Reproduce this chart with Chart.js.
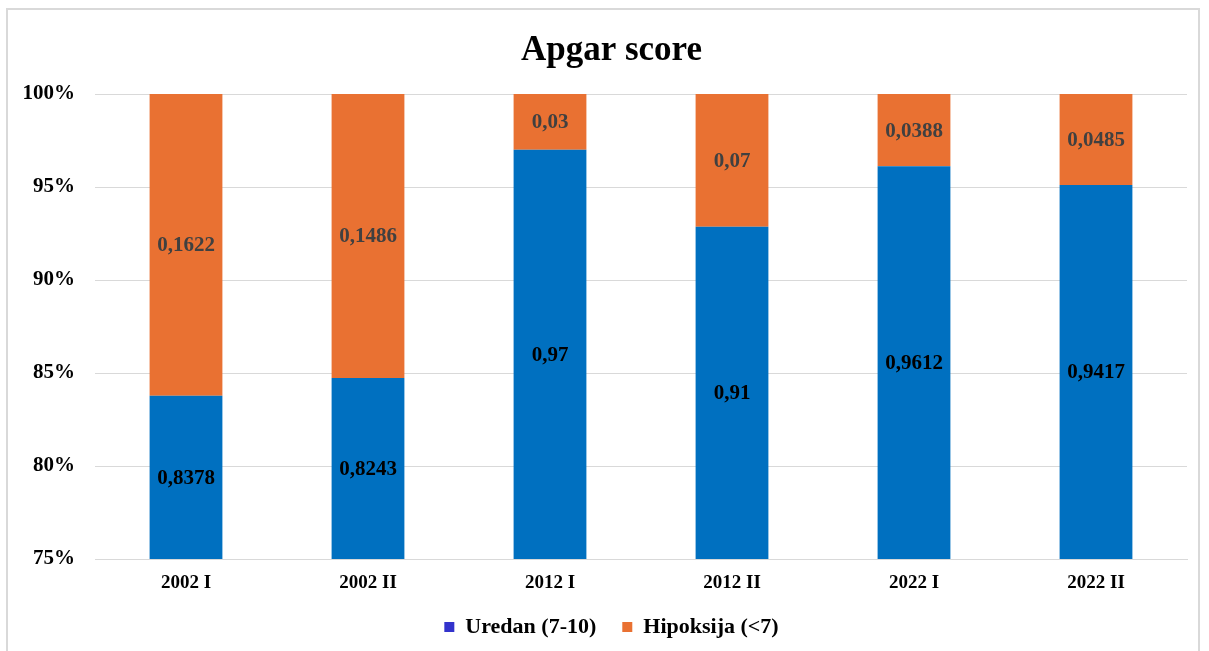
<!DOCTYPE html>
<html>
<head>
<meta charset="utf-8">
<script src="https://cdn.jsdelivr.net/npm/chart.js"></script>
<style>
  html, body { margin: 0; padding: 0; background: #fff; overflow: hidden; }
  #frame { position: absolute; left: 6px; top: 8px; width: 1194px; height: 660px; border: 2px solid #d9d9d9; box-sizing: border-box; }
  #wrap { position: absolute; left: 0; top: 0; width: 1209px; height: 651px; }
</style>
</head>
<body>
<div id="frame"></div>
<div id="wrap"><canvas id="chart" width="1209" height="651"></canvas></div>
<script>
// Categories and raw values as shown on the bars
const categories = ['2002 I', '2002 II', '2012 I', '2012 II', '2022 I', '2022 II'];
const uredan = [0.8378, 0.8243, 0.97, 0.91, 0.9612, 0.9417];
const hipoksija = [0.1622, 0.1486, 0.03, 0.07, 0.0388, 0.0485];
const yTicks = [75, 80, 85, 90, 95, 100];

const FONT = '"Liberation Serif", "Times New Roman", serif';

// 100% stacked: share of each series in the column total
const totals = categories.map((c, i) => uredan[i] + hipoksija[i]);
const uredanPct = uredan.map((v, i) => v / totals[i] * 100);
const hipoksijaPct = hipoksija.map((v, i) => v / totals[i] * 100);

// Draw raw values centered in the visible part of each segment
const valueLabels = {
  id: 'valueLabels',
  afterDatasetsDraw(chart) {
    const ctx = chart.ctx;
    const area = chart.chartArea;
    ctx.save();
    ctx.font = 'bold 21px ' + FONT;
    ctx.textAlign = 'center';
    ctx.textBaseline = 'middle';
    chart.data.datasets.forEach((ds, di) => {
      const meta = chart.getDatasetMeta(di);
      meta.data.forEach((bar, i) => {
        const top = Math.max(Math.min(bar.y, bar.base), area.top);
        const bottom = Math.min(Math.max(bar.y, bar.base), area.bottom);
        if (bottom <= top) return;
        ctx.fillStyle = ds.labelColor;
        const txt = String(ds.raw[i]).replace('.', ',');
        ctx.fillText(txt, bar.x, (top + bottom) / 2 + 1);
      });
    });
    ctx.restore();
  }
};

// y tick labels drawn by hand so they can sit left of the layout padding
const yLabels = {
  id: 'yLabels',
  afterDraw(chart) {
    const ctx = chart.ctx;
    const y = chart.scales.y;
    ctx.save();
    ctx.font = 'bold 21px ' + FONT;
    ctx.fillStyle = '#000';
    ctx.textAlign = 'right';
    ctx.textBaseline = 'middle';
    yTicks.forEach(v => ctx.fillText(v + '%', chart.chartArea.left - 20, y.getPixelForValue(v)));
    ctx.restore();
  }
};

new Chart(document.getElementById('chart'), {
  type: 'bar',
  data: {
    labels: categories,
    datasets: [
      { label: 'Uredan (7-10)', data: uredanPct, raw: uredan, backgroundColor: '#0070C0', legendColor: '#3333CC', labelColor: '#000000', barPercentage: 0.4, categoryPercentage: 1 },
      { label: 'Hipoksija (<7)', data: hipoksijaPct, raw: hipoksija, backgroundColor: '#E97132', legendColor: '#E97132', labelColor: '#404040', barPercentage: 0.4, categoryPercentage: 1 }
    ]
  },
  options: {
    responsive: false,
    animation: false,
    layout: { padding: { left: 36, right: 22, top: 8, bottom: 3 } },
    plugins: {
      title: {
        display: true,
        text: 'Apgar score',
        color: '#000',
        font: { family: FONT, size: 35, weight: 'bold' },
        padding: { top: 22, bottom: 22 }
      },
      legend: {
        position: 'bottom',
        labels: {
          color: '#000',
          font: { family: FONT, size: 22, weight: 'bold' },
          boxWidth: 10,
          boxHeight: 10,
          padding: 26,
          generateLabels(chart) {
            return chart.data.datasets.map((ds, i) => ({
              text: ds.label,
              fillStyle: ds.legendColor,
              strokeStyle: ds.legendColor,
              lineWidth: 0,
              fontColor: '#000',
              datasetIndex: i
            }));
          }
        }
      },
      tooltip: { enabled: false }
    },
    scales: {
      x: {
        stacked: true,
        grid: { display: false },
        border: { color: '#d9d9d9', width: 1 },
        ticks: { color: '#000', font: { family: FONT, size: 19, weight: 'bold' }, padding: 5 },
        afterFit(axis) { axis.height = 31; }
      },
      y: {
        stacked: true,
        min: 75,
        max: 100,
        afterBuildTicks(axis) { axis.ticks = yTicks.map(v => ({ value: v })); },
        afterFit(axis) { axis.width = 59; },
        grid: { color: '#d9d9d9', drawTicks: false },
        border: { display: false },
        ticks: { display: false }
      }
    }
  },
  plugins: [valueLabels, yLabels]
});
</script>
</body>
</html>
